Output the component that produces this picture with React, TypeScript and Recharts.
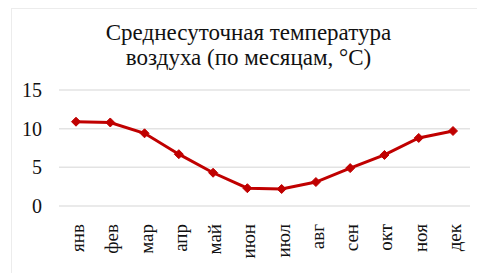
import React from "react"
import { LineChart, Line, XAxis, YAxis, CartesianGrid } from "recharts"

// месяцы и среднесуточная температура (°C)
const months = ["янв", "фев", "мар", "апр", "май", "июн", "июл", "авг", "сен", "окт", "ноя", "дек"]
const temps = [10.9, 10.8, 9.4, 6.7, 4.3, 2.3, 2.2, 3.1, 4.9, 6.6, 8.8, 9.7]
const yTicks = [0, 5, 10, 15]

const data = months.map((m, i) => ({ month: m, t: temps[i] }))

const FONT = '"Liberation Serif", "Times New Roman", serif'
const RED = "#c00000"
const INK = "#111"

const Diamond = (props: any) => {
  const { cx, cy } = props
  if (cx == null || cy == null) return null
  const r = 4.5
  return (
    <polygon
      points={`${cx},${cy - r} ${cx + r},${cy} ${cx},${cy + r} ${cx - r},${cy}`}
      fill={RED}
      stroke={RED}
    />
  )
}

const MonthTick = (props: any) => {
  const { x, y, payload } = props
  return (
    <text
      x={0}
      y={0}
      dy={8}
      transform={`translate(${x},${y + 10}) rotate(-90)`}
      textAnchor="end"
      fontSize={19}
      fontFamily={FONT}
      fill={INK}
    >
      {payload.value}
    </text>
  )
}

export default function App() {
  return (
    <div style={{ position: "absolute", left: 0, top: 0, width: 477, height: 273, background: "#fff" }}>
      <div
        style={{
          position: "absolute",
          left: 11,
          top: 8,
          right: 0,
          bottom: 0,
          border: "1px solid #ececec",
          borderRight: "none",
          borderBottom: "none",
        }}
      />
      <div
        style={{
          position: "absolute",
          left: 0,
          width: 497,
          top: 20,
          textAlign: "center",
          fontFamily: FONT,
          fontSize: 23,
          lineHeight: "25px",
          color: INK,
        }}
      >
        Среднесуточная температура
        <br />
        воздуха (по месяцам, °C)
      </div>
      <LineChart
        width={477}
        height={273}
        data={data}
        margin={{ top: 90, right: 7, left: 14, bottom: 7 }}
        style={{ position: "absolute", left: 0, top: 0 }}
      >
        <CartesianGrid vertical={false} stroke="#e3e3e3" strokeWidth={1.5} />
        <XAxis
          dataKey="month"
          axisLine={false}
          tickLine={false}
          interval={0}
          height={60}
          padding={{ left: 17, right: 17 }}
          tick={<MonthTick />}
        />
        <YAxis
          domain={[0, 15]}
          ticks={yTicks}
          axisLine={false}
          tickLine={false}
          width={45}
          tick={{ fontSize: 20, fontFamily: FONT, fill: INK }}
          tickMargin={11}
        />
        <Line
          type="linear"
          dataKey="t"
          stroke={RED}
          strokeWidth={3}
          dot={<Diamond />}
          isAnimationActive={false}
        />
      </LineChart>
    </div>
  )
}
